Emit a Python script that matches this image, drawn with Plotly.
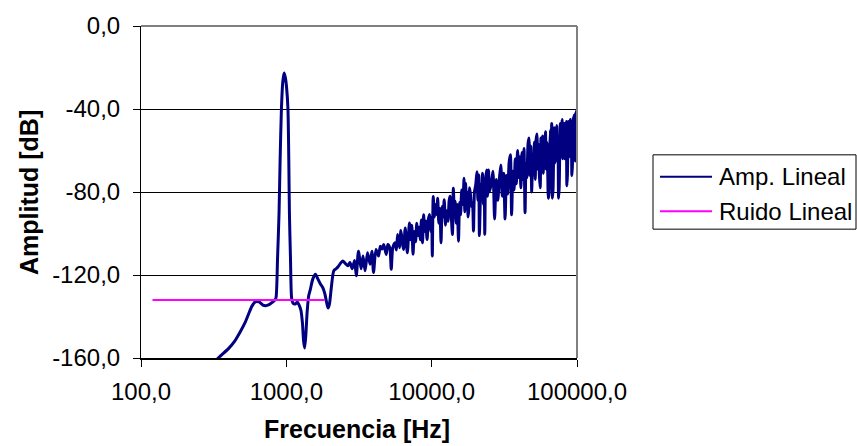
import plotly.graph_objects as go

# ---------------- data ----------------
freq_low = [250, 300, 340, 400, 440, 480, 520, 550, 580, 612,
            650, 690, 720, 760, 800, 835, 849, 870, 891, 906,
            925, 945, 965, 985, 1005, 1026, 1040, 1050, 1068, 1087,
            1110, 1150, 1190, 1225, 1260, 1290, 1315, 1337, 1362, 1390,
            1425, 1462, 1520, 1585, 1650, 1720, 1780, 1840, 1890, 1936,
            1980, 2040, 2120, 2200, 2270, 2350, 2443]
amp_low = [-170, -164, -160, -155.5, -152, -147.6, -143, -138.8, -135, -132.9,
           -133, -134.5, -134.8, -134.3, -133.2, -132, -131, -112, -90, -65,
           -40, -27, -22.7, -25, -30, -40, -65, -90, -112, -131,
           -133.5, -134, -133, -134.5, -137, -143, -152, -155.2, -149, -138,
           -130, -127, -122, -119.6, -122, -124.5, -126, -129, -133, -135.9,
           -134, -126, -118, -117, -116, -114.5, -113.3]

freq_mid = [2550, 2650, 2740, 2840, 2950, 3030, 3135, 3270, 3370, 3480,
            3620, 3770, 3880, 3980, 4140, 4310, 4430, 4550, 4680, 4870,
            4990, 5150, 5270, 5400, 5600, 5720, 5830, 6020, 6140, 6280,
            6400, 6580, 6800, 7030, 7150, 7300, 7440, 7600, 7750, 7900,
            8050, 8200, 8350, 8500, 8650, 8800, 8950, 9100, 9300, 9500,
            9700, 9850, 10000]
amp_mid = [-114.5, -115.6, -114, -117, -113, -120.4, -108.5, -117, -110.9, -118,
           -109.3, -114.8, -108.5, -118.8, -107.7, -110.9, -106.1, -107.5, -105.3, -110.1,
           -105.3, -106.9, -117.2, -106.9, -104.5, -108, -100.5, -106.9, -98.6, -104,
           -107.7, -97.3, -109.3, -94.9, -103, -96, -110, -99, -104, -95,
           -101, -97, -103, -93.5, -104.5, -91, -99, -94, -102.9, -93,
           -90.9, -99, -92]

freq_upper = [10100, 10250, 10450, 10650, 10850, 11000, 11200, 11400, 11600, 11800,
              12000, 12200, 12450, 12700, 12950, 13200, 13400, 13650, 13900, 14100,
              14300, 14500, 14750, 15000, 15300, 15550, 15800, 16100, 16400, 16700,
              16900, 17100, 17350, 17600, 17800, 18000, 18250, 18500, 18800, 19100,
              19400, 19700, 20100, 20500, 20800, 21100, 21300, 21600, 21900, 22100,
              22400, 22700, 23000, 23200, 23500, 23900, 24200, 24600, 25000]
amp_upper = [-110.9, -82.2, -92, -86, -90.9, -83, -95, -88, -104.5, -87,
             -92, -83.7, -96, -89, -94.1, -84, -82, -92, -100.5, -78.2,
             -88, -84.5, -95, -86, -103.7, -85, -91, -79, -86, -73.4,
             -89.5, -75.8, -84, -80, -92, -88.6, -78, -81.4, -87, -85,
             -98.9, -80, -76.6, -70.2, -84, -71.8, -101, -85, -76, -80,
             -71, -86, -78, -100.5, -74, -69.4, -82, -69.4, -80]

freq_high = [25700, 26400, 27100, 27800, 28500, 29200, 29900, 30600, 31300, 32000,
             32700, 33400, 34100, 34800, 35500, 36200, 36900, 37600, 38300, 39000,
             39700, 40400, 41100, 41800, 42500, 43200, 43900, 44600, 45300, 46000,
             46700, 47400, 48100, 48800, 49500, 50200, 50900, 51600, 52300, 53000,
             53700, 54400, 55100, 55800, 56500, 57200, 57900, 58600, 59300, 60000,
             60700, 61400, 62100, 62800, 63500, 64200, 64900, 65600, 66300, 67000,
             67700, 68400, 69100, 69800, 70500, 71200, 71900, 72600, 73300, 74000,
             74700, 75400, 76100, 76800, 77500, 78200, 78900, 79600, 80300, 81000,
             81700, 82400, 83100, 83800, 84500, 85200, 85900, 86600, 87300, 88000,
             88700, 89400, 90100, 90800, 91500, 92200, 92900, 93600, 94300, 95000,
             95700, 96400, 97100, 97800, 98500, 99200, 99900]
amp_high = [-76, -70, -93, -74, -84, -74, -67, -82, -71, -93,
            -72, -81, -66, -62, -91, -70, -79, -64, -76, -60,
            -73, -63, -78, -61, -74, -59, -90, -66, -73, -57,
            -54, -72, -58, -80, -62, -71, -56, -74, -55, -52,
            -69, -57, -72, -78, -54, -68, -53, -71, -55, -66,
            -51, -69, -56, -68, -83, -80, -60, -50, -68, -47,
            -83, -79, -61, -49, -66, -52, -64, -48, -65, -53,
            -83, -78, -60, -47, -63, -51, -45, -64, -49, -60,
            -47, -64, -48, -60, -46, -77, -72, -58, -46, -62,
            -48, -63, -45, -59, -47, -72, -68, -57, -44, -60,
            -43, -62, -65, -42, -58, -41, -55]

noise_freq = [120, 1834]
noise_amp = [-132, -132]

x_tick_vals = [100, 1000, 10000, 100000]
x_tick_text = ["100,0", "1000,0", "10000,0", "100000,0"]
y_tick_vals = [-160, -120, -80, -40, 0]
y_tick_text = ["-160,0", "-120,0", "-80,0", "-40,0", "0,0"]

series_names = ["Amp. Lineal", "Ruido Lineal"]
series_colors = ["#000080", "#FF00FF"]

assert len(freq_low) == len(amp_low)
assert len(freq_mid) == len(amp_mid)
assert len(freq_upper) == len(amp_upper)
assert len(freq_high) == len(amp_high)

freq_amp = freq_low + freq_mid + freq_upper + freq_high
amp_amp = amp_low + amp_mid + amp_upper + amp_high

# ---------------- layout helpers ----------------
W, H = 857, 446
L, R, T, B = 141, 577, 23, 358
PW, PH = R - L, B - T


def px(xp):
    return (xp - L) / PW


def py(yp):
    return (B - yp) / PH


FONT = "Liberation Sans, Arial, sans-serif"
FS = 24

fig = go.Figure()
fig.add_trace(go.Scatter(
    x=freq_amp, y=amp_amp, mode="lines", name=series_names[0],
    line=dict(color=series_colors[0], width=3, shape="spline", smoothing=0.7),
    showlegend=False, hoverinfo="skip"))
fig.add_trace(go.Scatter(
    x=noise_freq, y=noise_amp, mode="lines", name=series_names[1],
    line=dict(color=series_colors[1], width=2),
    showlegend=False, hoverinfo="skip"))

shapes = [
    dict(type="line", xref="paper", yref="paper", x0=0, x1=1, y0=1, y1=1,
         line=dict(color="black", width=1)),
    dict(type="line", xref="paper", yref="paper", x0=1, x1=1, y0=0, y1=1,
         line=dict(color="#808080", width=2)),
    dict(type="rect", xref="paper", yref="paper",
         x0=px(653), x1=px(856), y0=py(228), y1=py(153),
         line=dict(color="black", width=1), fillcolor="white"),
]
annotations = []
leg_rows = [175, 210]
for name, color, yr in zip(series_names, series_colors, leg_rows):
    shapes.append(dict(type="line", xref="paper", yref="paper",
                       x0=px(660), x1=px(712), y0=py(yr), y1=py(yr),
                       line=dict(color=color, width=2)))
    annotations.append(dict(text=name, xref="paper", yref="paper",
                            x=px(717), y=py(yr), xanchor="left", yanchor="middle",
                            showarrow=False, font=dict(size=FS, color="black", family=FONT)))

annotations.append(dict(text="<b>Frecuencia [Hz]</b>", xref="paper", yref="paper",
                        x=px(357), y=py(446), xanchor="center", yanchor="bottom",
                        showarrow=False, font=dict(size=25, color="black", family=FONT)))
annotations.append(dict(text="<b>Amplitud [dB]</b>", xref="paper", yref="paper",
                        x=px(29), y=py(191.5), xanchor="center", yanchor="middle",
                        textangle=-90, showarrow=False,
                        font=dict(size=25, color="black", family=FONT)))

fig.update_layout(
    width=W, height=H,
    margin=dict(l=L, r=W - R, t=T, b=H - B, pad=0),
    paper_bgcolor="white", plot_bgcolor="white",
    showlegend=False,
    font=dict(family=FONT, size=FS, color="black"),
    shapes=shapes, annotations=annotations,
    xaxis=dict(type="log", range=[2, 5], tickvals=x_tick_vals, ticktext=x_tick_text,
               ticks="outside", ticklen=7, tickcolor="black", tickwidth=1,
               ticklabelstandoff=4,
               showline=True, linecolor="black", linewidth=2,
               showgrid=False, zeroline=False,
               tickfont=dict(size=FS, color="black", family=FONT)),
    yaxis=dict(range=[-160, 0], tickvals=y_tick_vals, ticktext=y_tick_text,
               ticks="outside", ticklen=7, tickcolor="black", tickwidth=1,
               ticklabelstandoff=8,
               showline=True, linecolor="black", linewidth=1,
               showgrid=True, gridcolor="black", gridwidth=1, zeroline=False,
               tickfont=dict(size=FS, color="black", family=FONT)),
)

fig.write_html("out.html")
